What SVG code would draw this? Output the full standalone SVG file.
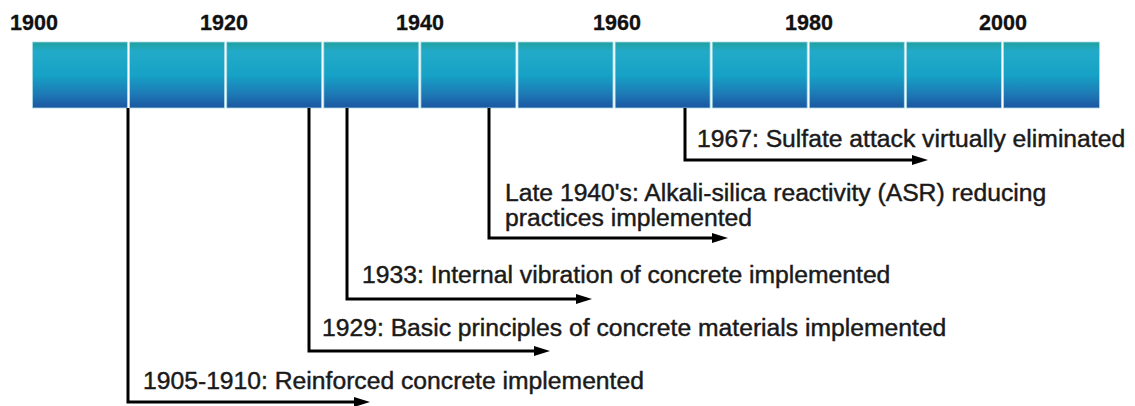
<svg xmlns="http://www.w3.org/2000/svg" width="1135" height="406" viewBox="0 0 1135 406">
<style>
.yr{font-family:"Liberation Sans",Arial,sans-serif;font-weight:bold;font-size:21.5px;fill:#111;stroke:#111;stroke-width:0.3;text-anchor:middle}
.ev{font-family:"Liberation Sans",Arial,sans-serif;font-size:24.7px;fill:#1a1a1a;stroke:#1a1a1a;stroke-width:0.45}
.seg{fill:url(#g);stroke:#a9dbe6;stroke-width:0.8}
.con{fill:none;stroke:#000;stroke-width:3;stroke-linejoin:miter}
</style>
<defs>
<linearGradient id="g" x1="0" y1="0" x2="0" y2="1">
<stop offset="0" stop-color="#20a09e"/>
<stop offset="0.14" stop-color="#22aac8"/>
<stop offset="0.5" stop-color="#16a2c6"/>
<stop offset="0.8" stop-color="#1d78b4"/>
<stop offset="1" stop-color="#1b55a0"/>
</linearGradient>
<marker id="ah" viewBox="0 0 16 10" refX="8" refY="5" markerWidth="16" markerHeight="10" markerUnits="userSpaceOnUse" orient="auto">
<path d="M0,0 L16,5 L0,10 Z" fill="#000"/>
</marker>
</defs>
<g id="timeline-bar">
<rect class="seg" x="32.5" y="42" width="95" height="66"/>
<rect class="seg" x="129.6" y="42" width="95" height="66"/>
<rect class="seg" x="226.7" y="42" width="95" height="66"/>
<rect class="seg" x="323.8" y="42" width="95" height="66"/>
<rect class="seg" x="420.9" y="42" width="95" height="66"/>
<rect class="seg" x="518" y="42" width="95" height="66"/>
<rect class="seg" x="615.1" y="42" width="95" height="66"/>
<rect class="seg" x="712.2" y="42" width="95" height="66"/>
<rect class="seg" x="809.3" y="42" width="95" height="66"/>
<rect class="seg" x="906.4" y="42" width="95" height="66"/>
<rect class="seg" x="1003.5" y="42" width="96" height="66"/>
</g>
<g id="year-labels">
<text class="yr" x="34" y="30">1900</text>
<text class="yr" x="224" y="30">1920</text>
<text class="yr" x="420" y="30">1940</text>
<text class="yr" x="617" y="30">1960</text>
<text class="yr" x="809" y="30">1980</text>
<text class="yr" x="1003" y="30">2000</text>
</g>
<g id="connectors">
<polyline class="con" points="128,108 128,402 362,402" marker-end="url(#ah)"/>
<polyline class="con" points="309,108 309,351 542,351" marker-end="url(#ah)"/>
<polyline class="con" points="347,108 347,299 584,299" marker-end="url(#ah)"/>
<polyline class="con" points="489,108 489,238 720,238" marker-end="url(#ah)"/>
<polyline class="con" points="685,108 685,160 920,160" marker-end="url(#ah)"/>
</g>
<g id="event-1905">
<text class="ev" x="143" y="389">1905-1910: Reinforced concrete implemented</text>
</g>
<g id="event-1929">
<text class="ev" x="322" y="336">1929: Basic principles of concrete materials implemented</text>
</g>
<g id="event-1933">
<text class="ev" x="362" y="283">1933: Internal vibration of concrete implemented</text>
</g>
<g id="event-1940s">
<text class="ev" x="505" y="201">Late 1940's: Alkali-silica reactivity (ASR) reducing</text>
<text class="ev" x="505" y="226">practices implemented</text>
</g>
<g id="event-1967">
<text class="ev" x="697" y="147">1967: Sulfate attack virtually eliminated</text>
</g>
</svg>
